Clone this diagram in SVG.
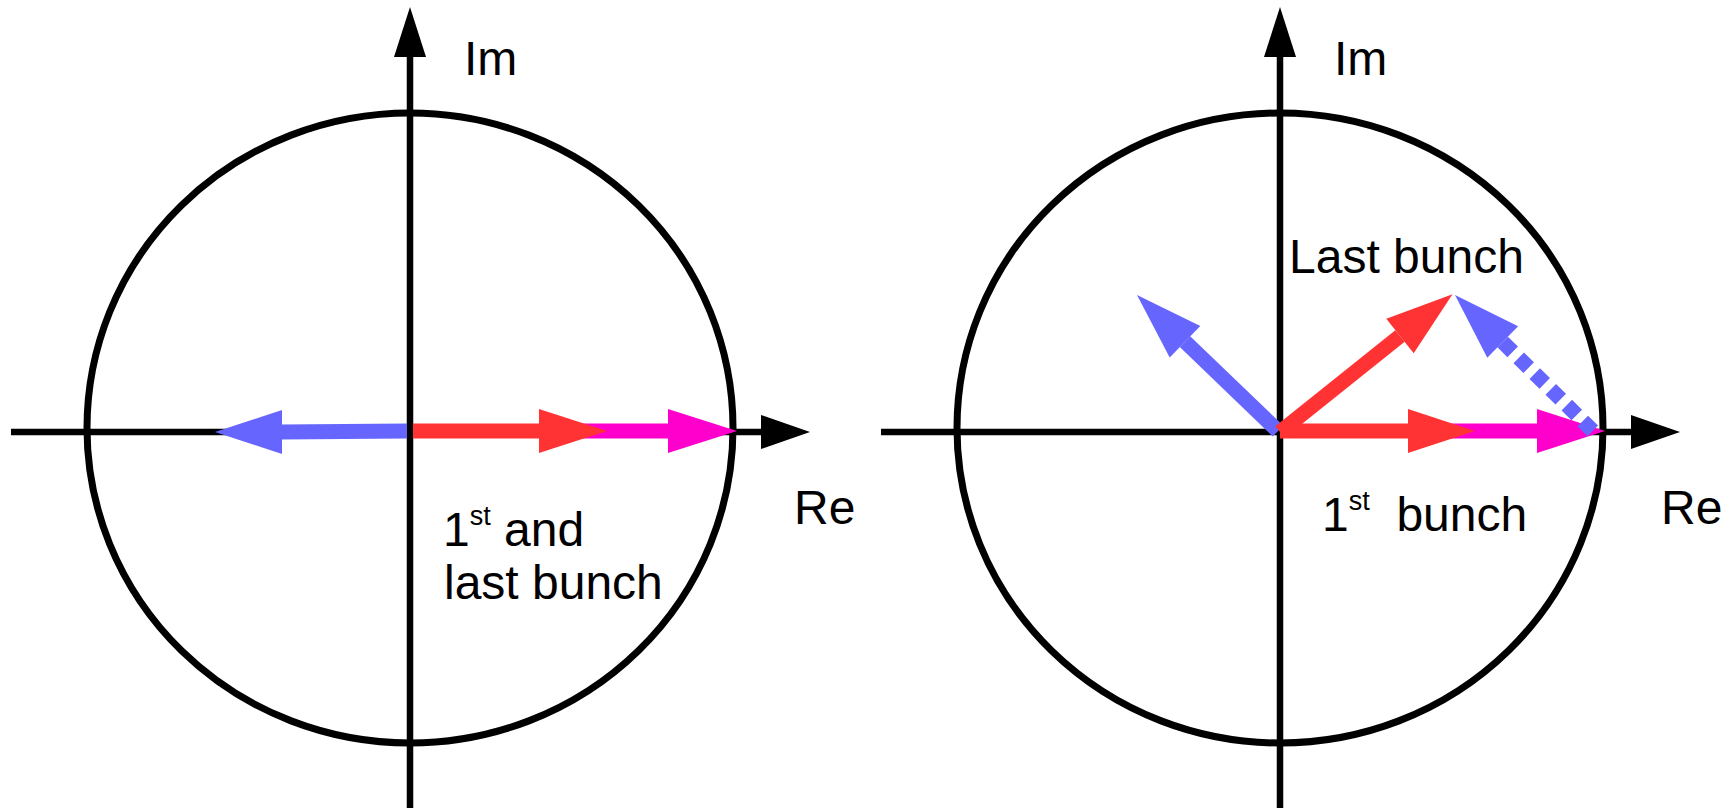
<svg xmlns="http://www.w3.org/2000/svg" width="1733" height="808" viewBox="0 0 1733 808">
<style>
.ax{stroke:#000;stroke-width:6.5;fill:none}
.circ{stroke:#000;stroke-width:7;fill:none}
.ah{fill:#000}
.sb{stroke:#6666ff;stroke-width:15;fill:none}
.sr{stroke:#ff3333;stroke-width:15;fill:none}
.sm{stroke:#ff00cc;stroke-width:15;fill:none}
.hb{fill:#6666ff}
.hr{fill:#ff3333}
.hm{fill:#ff00cc}
.t{font-family:"Liberation Sans",Arial,sans-serif;font-size:48px;fill:#000}
.sup{font-size:27px}
</style>
<rect width="1733" height="808" fill="#fff"/>
<g id="left-panel">
  <ellipse id="left-circle" class="circ" cx="410" cy="428" rx="323" ry="315"/>
  <g id="left-axes">
    <line class="ax" x1="11" y1="432" x2="765" y2="432"/>
    <polygon class="ah" points="761,415 761,449 810,432"/>
    <line class="ax" x1="410" y1="808" x2="410" y2="52"/>
    <polygon class="ah" points="394,57 426,57 410,7"/>
  </g>
  <g id="left-arrows">
    <line class="sm" x1="560" y1="431" x2="669" y2="431"/>
    <polygon class="hm" points="668,409 668,453 737,431"/>
    <line class="sb" x1="407" y1="431" x2="281" y2="432"/>
    <polygon class="hb" points="282,410 282,454 215,432"/>
    <line class="sr" x1="413" y1="431" x2="540" y2="431"/>
    <polygon class="hr" points="539,409 539,453 607,431"/>
  </g>
  <text class="t" x="464" y="75">Im</text>
  <text class="t" x="794" y="524">Re</text>
  <text class="t" x="443" y="546">1<tspan class="sup" dy="-21">st</tspan><tspan dy="21"> and</tspan></text>
  <text class="t" x="444" y="599">last bunch</text>
</g>
<g id="right-panel">
  <ellipse id="right-circle" class="circ" cx="1280" cy="428" rx="323" ry="315"/>
  <g id="right-axes">
    <line class="ax" x1="881" y1="432" x2="1635" y2="432"/>
    <polygon class="ah" points="1631,415 1631,449 1680,432"/>
    <line class="ax" x1="1280" y1="808" x2="1280" y2="52"/>
    <polygon class="ah" points="1264,57 1296,57 1280,7"/>
  </g>
  <g id="right-arrows">
    <line class="sm" x1="1430" y1="431" x2="1538" y2="431"/>
    <polygon class="hm" points="1537,409 1537,453 1605,431"/>
    <line class="sr" x1="1280" y1="431" x2="1409" y2="431"/>
    <polygon class="hr" points="1408,409 1408,453 1475,431"/>
    <line class="sb" x1="1278" y1="431" x2="1185" y2="341.7"/>
    <polygon class="hb" points="1200.3,325.9 1169.7,357.5 1137,295"/>
    <line class="sr" x1="1280" y1="432" x2="1400" y2="336"/>
    <polygon class="hr" points="1386.3,318.8 1413.7,353.2 1452.5,294.2"/>
    <line class="sb" x1="1502.7" y1="342" x2="1593" y2="431" stroke-dasharray="14 8.5"/>
    <polygon class="hb" points="1518.1,326.3 1487.3,357.7 1455,295"/>
  </g>
  <text class="t" x="1334" y="75">Im</text>
  <text class="t" x="1661" y="524">Re</text>
  <text class="t" x="1289" y="273">Last bunch</text>
  <text class="t" x="1322" y="531" xml:space="preserve">1<tspan class="sup" dy="-21">st</tspan><tspan dy="21">  bunch</tspan></text>
</g>
</svg>
